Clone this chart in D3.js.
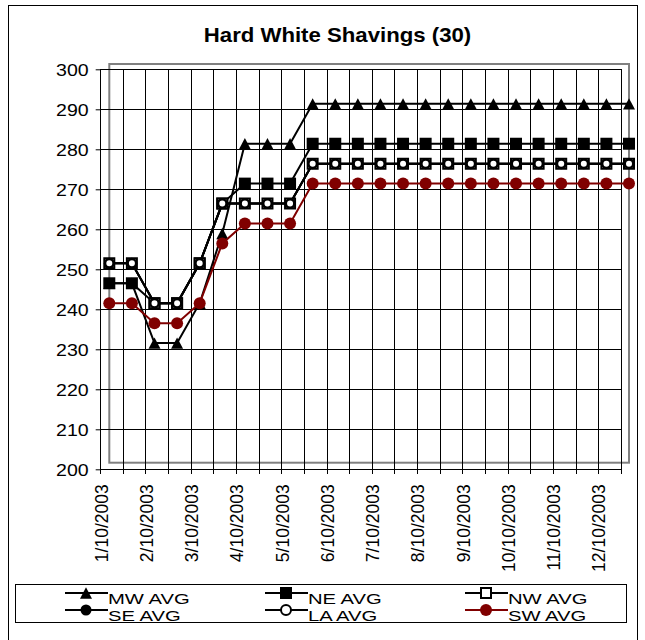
<!DOCTYPE html>
<html>
<head>
<meta charset="utf-8">
<script src="https://cdn.jsdelivr.net/npm/d3@7"></script>
<style>
  html, body { margin: 0; padding: 0; background: #fff; }
  svg { display: block; font-family: "Liberation Sans", Arial, sans-serif; }
</style>
</head>
<body>
<svg id="chart" width="645" height="640"></svg>
<script>
// ---- data ----
const title = "Hard White Shavings (30)";
const tickLabels = ["1/10/2003","2/10/2003","3/10/2003","4/10/2003","5/10/2003","6/10/2003",
                    "7/10/2003","8/10/2003","9/10/2003","10/10/2003","11/10/2003","12/10/2003"];
const yTicks = [200,210,220,230,240,250,260,270,280,290,300];
const seriesNames = ["MW AVG","NE AVG","NW AVG","SE AVG","LA AVG","SW AVG"];
const mwAvg = [245,245,230,230,240,257.5,280,280,280,290,290,290,290,290,290,290,290,290,290,290,290,290,290,290];
const neAvg = [245,245,240,240,250,265,270,270,270,280,280,280,280,280,280,280,280,280,280,280,280,280,280,280];
const nwAvg = [250,250,240,240,250,265,265,265,265,275,275,275,275,275,275,275,275,275,275,275,275,275,275,275];
const seAvg = [250,250,240,240,250,265,265,265,265,275,275,275,275,275,275,275,275,275,275,275,275,275,275,275];
const laAvg = [250,250,240,240,250,265,265,265,265,275,275,275,275,275,275,275,275,275,275,275,275,275,275,275];
const swAvg = [240,240,235,235,240,255,260,260,260,270,270,270,270,270,270,270,270,270,270,270,270,270,270,270];

const seriesValues = [mwAvg, neAvg, nwAvg, seAvg, laAvg, swAvg];
const styles = [
  {line:"#000", marker:"triangle", fill:"#000", stroke:"none", size:12},
  {line:"#000", marker:"square", fill:"#000", stroke:"none", size:12},
  {line:"#000", marker:"square", fill:"#fff", stroke:"#000", size:10},
  {line:"#000", marker:"circle", fill:"#000", stroke:"none", size:11},
  {line:"#000", marker:"circle", fill:"#fff", stroke:"#000", size:8},
  {line:"#800000", marker:"circle", fill:"#800000", stroke:"none", size:12}
];

const FONT = "Liberation Sans, Arial, sans-serif";
const SX = 1.15; // horizontal stretch of the reference's text

const svg = d3.select("#chart");
const n = mwAvg.length;
const idx = d3.range(n);

// outer frame
svg.append("rect").attr("x",8.5).attr("y",5.5).attr("width",629).attr("height",660)
  .attr("fill","#fff").attr("stroke","#000").attr("stroke-width",1);

// title
svg.append("text").attr("transform","translate(337.5,42) scale(1.11,1)")
  .attr("text-anchor","middle").attr("font-size",20).attr("font-weight","bold").text(title);

// axis/grid scales
const gx = d3.scaleLinear().domain([0,n-1]).range([100.7, 621.3]);
const gy = d3.scaleLinear().domain([200,300]).range([469.3, 69.3]);
// plot-area (data) scales
const px = d3.scaleLinear().domain([0,n-1]).range([109.3, 629]);
const py = d3.scaleLinear().domain([200,300]).range([462.7, 64]);

// plot area border
svg.append("rect").attr("x",px(0)).attr("y",py(300))
  .attr("width",px(n-1)-px(0)).attr("height",py(200)-py(300))
  .attr("fill","none").attr("stroke","#808080").attr("stroke-width",2);

// y axis ticks + labels
const yAxis = d3.axisLeft(gy).tickValues(yTicks).tickSize(5).tickFormat(d3.format("d"));
const yg = svg.append("g").attr("transform",`translate(${gx(0)},0)`).call(yAxis);
yg.select(".domain").remove();
yg.selectAll("line").attr("stroke","#000");
yg.selectAll("text").attr("font-size",17).attr("fill","#000").attr("font-family",FONT)
  .attr("x",0).attr("dy","0.35em")
  .attr("transform",`translate(-12,0) scale(${SX},1)`);
// horizontal gridlines
svg.append("g").selectAll("line").data(yTicks).join("line")
  .attr("x1",gx(0)).attr("x2",gx(n-1)).attr("y1",d=>gy(d)).attr("y2",d=>gy(d))
  .attr("stroke","#000").attr("stroke-width",1).attr("shape-rendering","crispEdges");

// vertical gridlines + x axis ticks
svg.append("g").selectAll("line").data(idx).join("line")
  .attr("x1",d=>gx(d)).attr("x2",d=>gx(d)).attr("y1",gy(300)).attr("y2",gy(200)+5)
  .attr("stroke","#000").attr("stroke-width",1).attr("shape-rendering","crispEdges");

// x labels (every second category)
const xAxis = d3.axisBottom(gx).tickValues(tickLabels.map((_,i)=>i*2)).tickSize(0)
  .tickFormat((d,i)=>tickLabels[i]);
const xg = svg.append("g").attr("transform",`translate(0,${gy(200)})`).call(xAxis);
xg.select(".domain").remove();
xg.selectAll("text").attr("font-size",17.5).attr("fill","#000").attr("font-family",FONT)
  .attr("transform","rotate(-90)").attr("text-anchor","end")
  .attr("x",-15).attr("y",0).attr("dy","0.36em");

// marker path generator
function markerPath(type, size){
  if(type==="triangle"){
    const w=size, h=size*0.95;
    return `M0,${-h/2}L${w/2},${h/2}L${-w/2},${h/2}Z`;
  }
  if(type==="square"){
    const s=size/2; return `M${-s},${-s}H${s}V${s}H${-s}Z`;
  }
  return d3.symbol(d3.symbolCircle, Math.PI*(size/2)*(size/2))();
}

const line = d3.line().x((d,i)=>px(i)).y(d=>py(d));
seriesValues.forEach((vals,si)=>{
  const st = styles[si];
  const g = svg.append("g");
  g.append("path").datum(vals).attr("d",line).attr("fill","none")
    .attr("stroke",st.line).attr("stroke-width",2);
  g.selectAll("path.m").data(vals).join("path").attr("class","m")
    .attr("transform",(d,i)=>`translate(${px(i)},${py(d)})`)
    .attr("d",markerPath(st.marker, st.size))
    .attr("fill",st.fill).attr("stroke",st.stroke).attr("stroke-width",st.stroke==="none"?0:2);
});

// legend
const lg = svg.append("g");
lg.append("rect").attr("x",15.5).attr("y",584.5).attr("width",611).attr("height",38)
  .attr("fill","#fff").attr("stroke","#000").attr("stroke-width",1);
const colX = [65, 265, 465];
const rowY = [593, 610];
seriesNames.forEach((name,si)=>{
  const st = styles[si];
  const cx = colX[si%3], cy = rowY[Math.floor(si/3)];
  lg.append("line").attr("x1",cx).attr("x2",cx+43).attr("y1",cy).attr("y2",cy)
    .attr("stroke",st.line).attr("stroke-width",2);
  lg.append("path").attr("transform",`translate(${cx+21},${cy})`)
    .attr("d",markerPath(st.marker, si===4?10:st.size))
    .attr("fill",st.fill).attr("stroke",st.stroke).attr("stroke-width",st.stroke==="none"?0:2);
  lg.append("text").attr("transform",`translate(${cx+43},${cy+10.5}) scale(1.35,1)`)
    .attr("font-size",15).text(name);
});
</script>
</body>
</html>
